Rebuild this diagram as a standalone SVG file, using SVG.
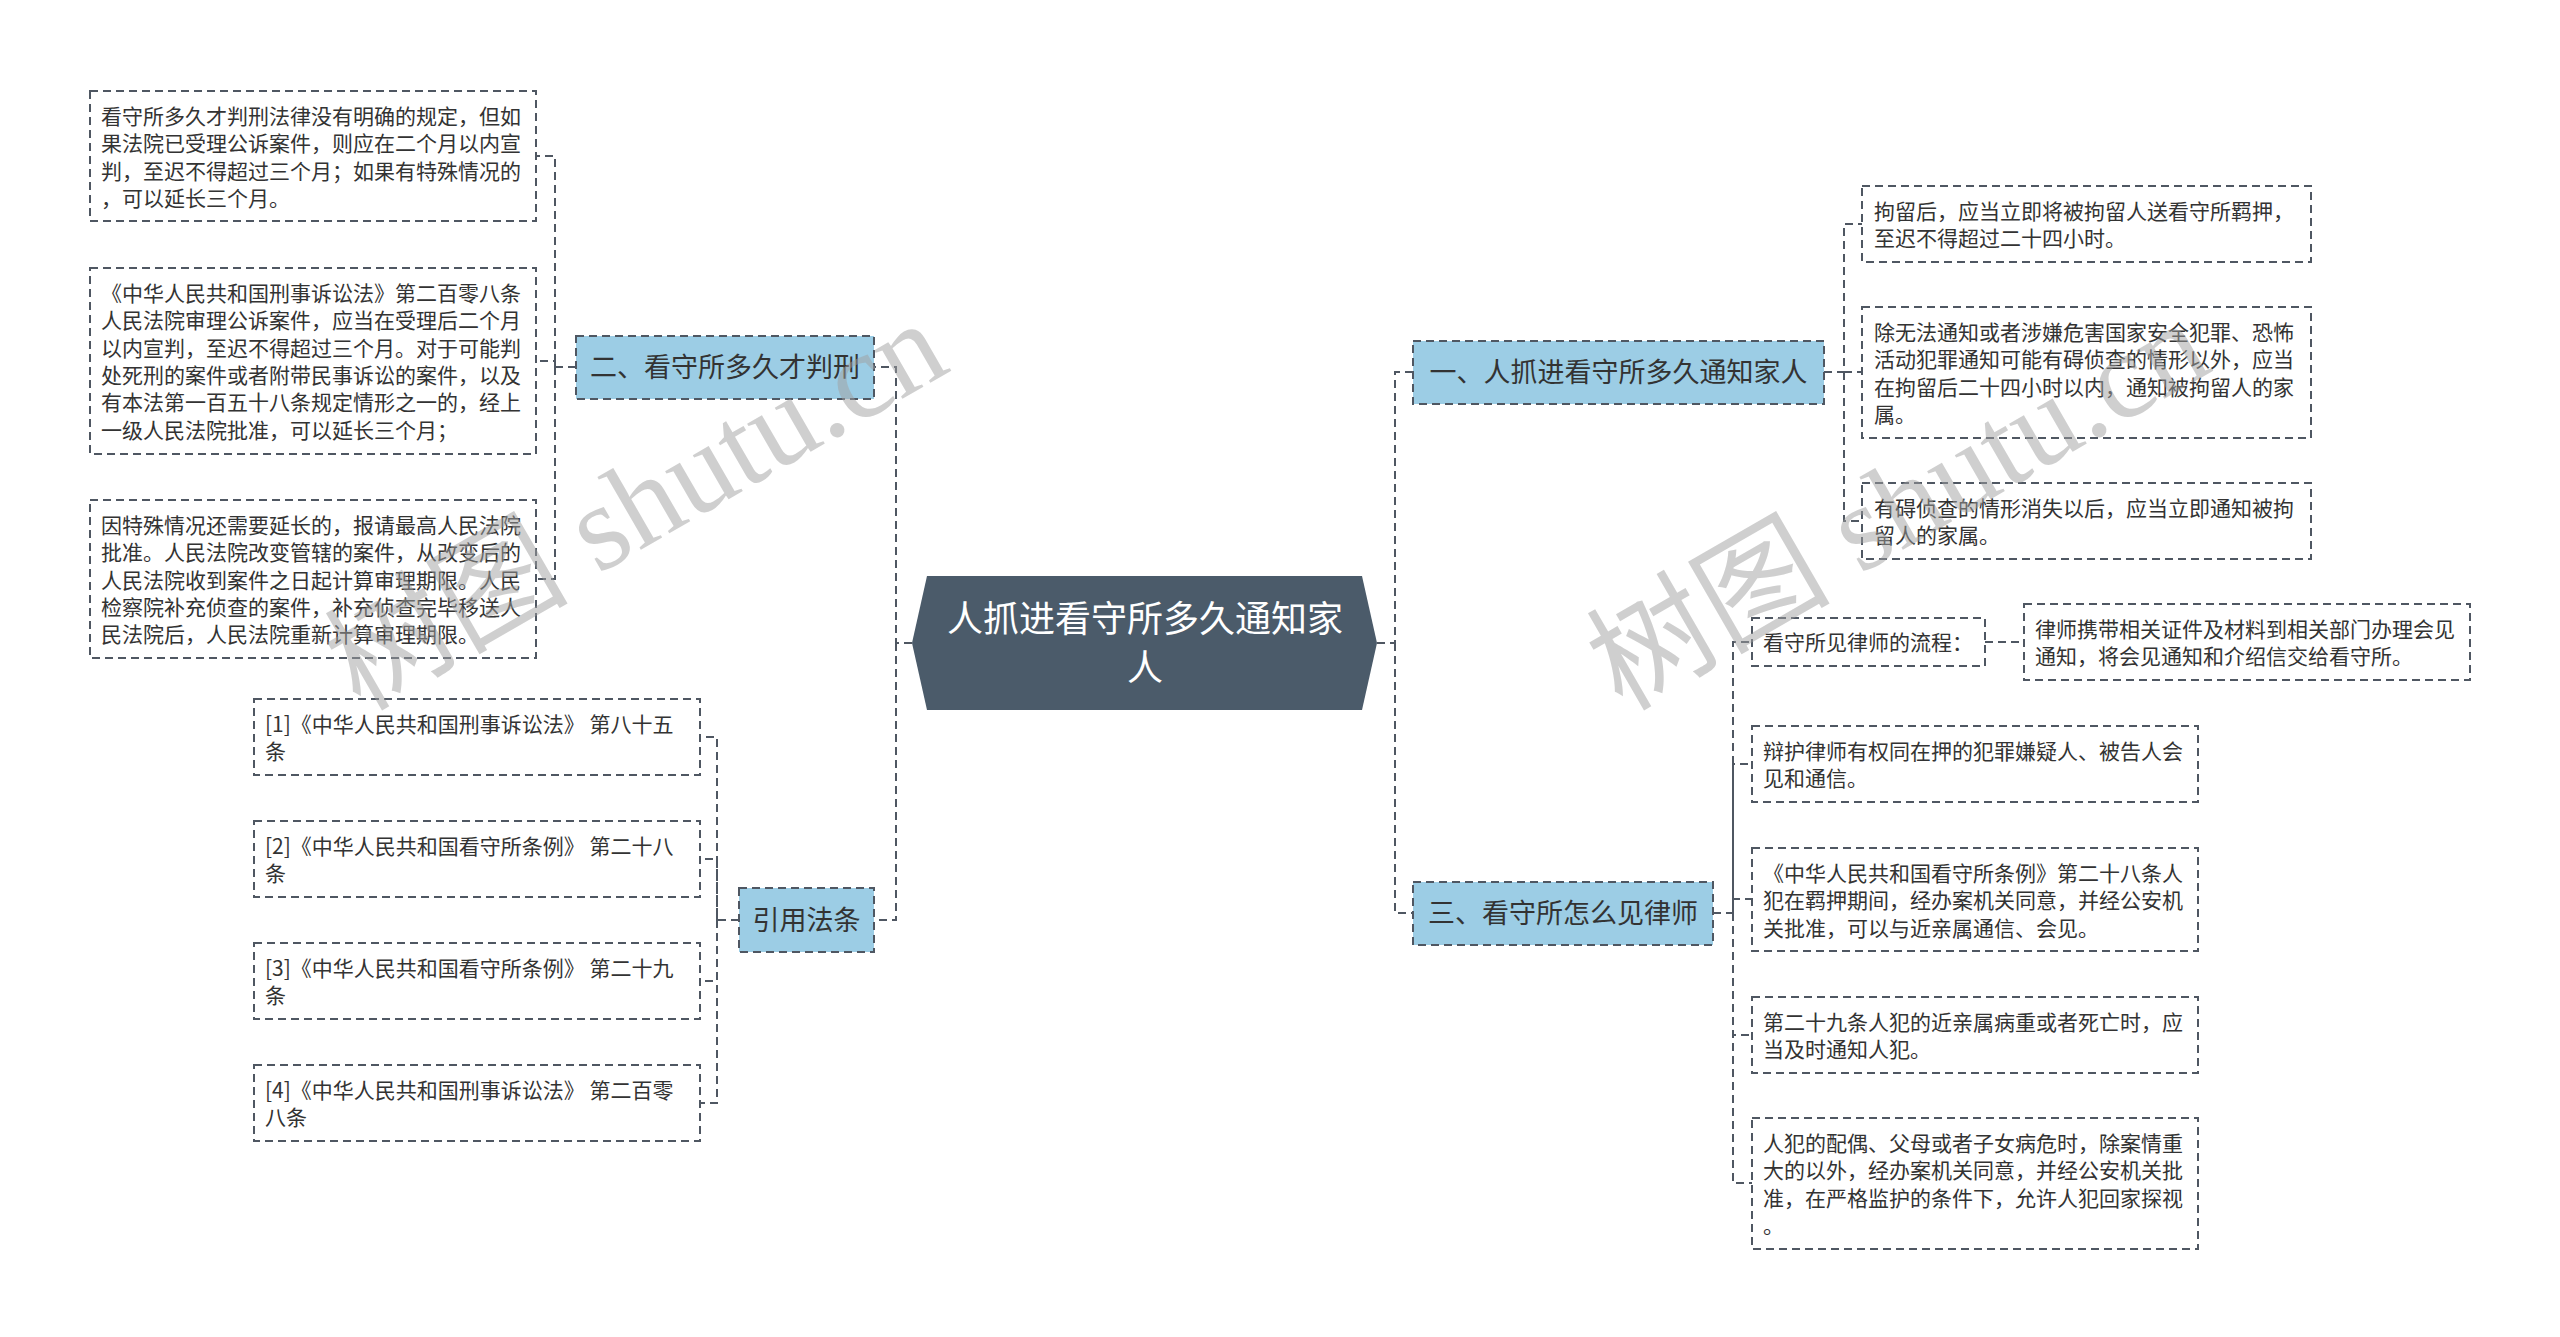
<svg xmlns="http://www.w3.org/2000/svg" width="2560" height="1337" viewBox="0 0 2560 1337">
<style>
.bg{fill:#ffffff}
.box{fill:#ffffff;stroke:#4f5762;stroke-width:2;stroke-dasharray:8 5}
.topic{fill:#9ccde5;stroke:#4f5762;stroke-width:2;stroke-dasharray:8 5}
.root{fill:#4b5b6a}
.conn{fill:none;stroke:#4f5762;stroke-width:2;stroke-dasharray:8 5}
.t{font-family:"Noto Sans CJK SC","Noto Sans",sans-serif;font-size:21px;fill:#333333}
.tt{font-family:"Noto Sans CJK SC","Noto Sans",sans-serif;font-size:27px;fill:#333333;text-anchor:middle}
.rt{font-family:"Noto Sans CJK SC","Noto Sans",sans-serif;font-size:36px;fill:#ffffff;text-anchor:middle}
.wm{font-family:"Liberation Serif","Noto Sans CJK SC",serif;font-size:122px;fill:#a0a0a0;fill-opacity:0.5}
</style>
<rect class="bg" x="0" y="0" width="2560" height="1337"/>

<g id="connectors">
<path class="conn" d="M912,643 H896 V367 H874"/>
<path class="conn" d="M896,643 V920 H874"/>
<path class="conn" d="M576,367 H555 V156 H536"/>
<path class="conn" d="M555,367 V361 H536"/>
<path class="conn" d="M555,367 V579 H536"/>
<path class="conn" d="M739,920 H717 V737 H700"/>
<path class="conn" d="M717,920 V859 H700"/>
<path class="conn" d="M717,920 V981 H700"/>
<path class="conn" d="M717,920 V1103 H700"/>
<path class="conn" d="M1377,643 H1395 V372 H1413"/>
<path class="conn" d="M1395,643 V913 H1413"/>
<path class="conn" d="M1824,372 H1844 V224 H1862"/>
<path class="conn" d="M1844,372 H1862"/>
<path class="conn" d="M1844,372 V521 H1862"/>
<path class="conn" d="M1713,913 H1733 V642 H1752"/>
<path class="conn" d="M1733,913 V764 H1752"/>
<path class="conn" d="M1733,913 V899 H1752"/>
<path class="conn" d="M1733,913 V1035 H1752"/>
<path class="conn" d="M1733,913 V1183 H1752"/>
<path class="conn" d="M1985,642 H2005 H2024"/>
</g>

<g id="root">
<polygon class="root" points="912,643 927,576 1362,576 1377,643 1362,710 927,710"/>
<text class="rt" x="1145" y="632">人抓进看守所多久通知家</text>
<text class="rt" x="1145" y="681">人</text>
</g>

<g id="topic2">
<rect class="topic" x="576" y="336" width="298" height="63"/>
<text class="tt" x="725" y="377">二、看守所多久才判刑</text>
</g>
<g id="n2a">
<rect class="box" x="90" y="91" width="446" height="130"/>
<text class="t" x="101" y="124">看守所多久才判刑法律没有明确的规定，但如</text>
<text class="t" x="101" y="151">果法院已受理公诉案件，则应在二个月以内宣</text>
<text class="t" x="101" y="179">判，至迟不得超过三个月；如果有特殊情况的</text>
<text class="t" x="101" y="206">，可以延长三个月。</text>
</g>
<g id="n2b">
<rect class="box" x="90" y="268" width="446" height="186"/>
<text class="t" x="101" y="301">《中华人民共和国刑事诉讼法》第二百零八条</text>
<text class="t" x="101" y="328">人民法院审理公诉案件，应当在受理后二个月</text>
<text class="t" x="101" y="356">以内宣判，至迟不得超过三个月。对于可能判</text>
<text class="t" x="101" y="383">处死刑的案件或者附带民事诉讼的案件，以及</text>
<text class="t" x="101" y="410">有本法第一百五十八条规定情形之一的，经上</text>
<text class="t" x="101" y="438">一级人民法院批准，可以延长三个月；</text>
</g>
<g id="n2c">
<rect class="box" x="90" y="500" width="446" height="158"/>
<text class="t" x="101" y="533">因特殊情况还需要延长的，报请最高人民法院</text>
<text class="t" x="101" y="560">批准。人民法院改变管辖的案件，从改变后的</text>
<text class="t" x="101" y="588">人民法院收到案件之日起计算审理期限。人民</text>
<text class="t" x="101" y="615">检察院补充侦查的案件，补充侦查完毕移送人</text>
<text class="t" x="101" y="642">民法院后，人民法院重新计算审理期限。</text>
</g>

<g id="topicRef">
<rect class="topic" x="739" y="888" width="135" height="64"/>
<text class="tt" x="806.5" y="930">引用法条</text>
</g>
<g id="ref1">
<rect class="box" x="254" y="699" width="446" height="76"/>
<text class="t" x="265" y="732">[1]《中华人民共和国刑事诉讼法》 第八十五</text>
<text class="t" x="265" y="759">条</text>
</g>
<g id="ref2">
<rect class="box" x="254" y="821" width="446" height="76"/>
<text class="t" x="265" y="854">[2]《中华人民共和国看守所条例》 第二十八</text>
<text class="t" x="265" y="881">条</text>
</g>
<g id="ref3">
<rect class="box" x="254" y="943" width="446" height="76"/>
<text class="t" x="265" y="976">[3]《中华人民共和国看守所条例》 第二十九</text>
<text class="t" x="265" y="1003">条</text>
</g>
<g id="ref4">
<rect class="box" x="254" y="1065" width="446" height="76"/>
<text class="t" x="265" y="1098">[4]《中华人民共和国刑事诉讼法》 第二百零</text>
<text class="t" x="265" y="1125">八条</text>
</g>

<g id="topic1">
<rect class="topic" x="1413" y="341" width="411" height="63"/>
<text class="tt" x="1618.5" y="382">一、人抓进看守所多久通知家人</text>
</g>
<g id="n1a">
<rect class="box" x="1862" y="186" width="449" height="76"/>
<text class="t" x="1874" y="219">拘留后，应当立即将被拘留人送看守所羁押，</text>
<text class="t" x="1874" y="246">至迟不得超过二十四小时。</text>
</g>
<g id="n1b">
<rect class="box" x="1862" y="307" width="449" height="131"/>
<text class="t" x="1874" y="340">除无法通知或者涉嫌危害国家安全犯罪、恐怖</text>
<text class="t" x="1874" y="367">活动犯罪通知可能有碍侦查的情形以外，应当</text>
<text class="t" x="1874" y="395">在拘留后二十四小时以内，通知被拘留人的家</text>
<text class="t" x="1874" y="422">属。</text>
</g>
<g id="n1c">
<rect class="box" x="1862" y="483" width="449" height="76"/>
<text class="t" x="1874" y="516">有碍侦查的情形消失以后，应当立即通知被拘</text>
<text class="t" x="1874" y="543">留人的家属。</text>
</g>

<g id="topic3">
<rect class="topic" x="1413" y="882" width="300" height="63"/>
<text class="tt" x="1563" y="923">三、看守所怎么见律师</text>
</g>
<g id="n3a">
<rect class="box" x="1752" y="618" width="233" height="48"/>
<text class="t" x="1763" y="650">看守所见律师的流程：</text>
</g>
<g id="n3a1">
<rect class="box" x="2024" y="604" width="446" height="76"/>
<text class="t" x="2035" y="637">律师携带相关证件及材料到相关部门办理会见</text>
<text class="t" x="2035" y="664">通知，将会见通知和介绍信交给看守所。</text>
</g>
<g id="n3b">
<rect class="box" x="1752" y="726" width="446" height="76"/>
<text class="t" x="1763" y="759">辩护律师有权同在押的犯罪嫌疑人、被告人会</text>
<text class="t" x="1763" y="786">见和通信。</text>
</g>
<g id="n3c">
<rect class="box" x="1752" y="848" width="446" height="103"/>
<text class="t" x="1763" y="881">《中华人民共和国看守所条例》第二十八条人</text>
<text class="t" x="1763" y="908">犯在羁押期间，经办案机关同意，并经公安机</text>
<text class="t" x="1763" y="936">关批准，可以与近亲属通信、会见。</text>
</g>
<g id="n3d">
<rect class="box" x="1752" y="997" width="446" height="76"/>
<text class="t" x="1763" y="1030">第二十九条人犯的近亲属病重或者死亡时，应</text>
<text class="t" x="1763" y="1057">当及时通知人犯。</text>
</g>
<g id="n3e">
<rect class="box" x="1752" y="1118" width="446" height="131"/>
<text class="t" x="1763" y="1151">人犯的配偶、父母或者子女病危时，除案情重</text>
<text class="t" x="1763" y="1178">大的以外，经办案机关同意，并经公安机关批</text>
<text class="t" x="1763" y="1206">准，在严格监护的条件下，允许人犯回家探视</text>
<text class="t" x="1763" y="1233">。</text>
</g>

<g id="watermarks">
<text class="wm" transform="translate(360,712) rotate(-30)">树图 shutu.cn</text>
<text class="wm" transform="translate(1622,712) rotate(-30)">树图 shutu.cn</text>
</g>
</svg>
